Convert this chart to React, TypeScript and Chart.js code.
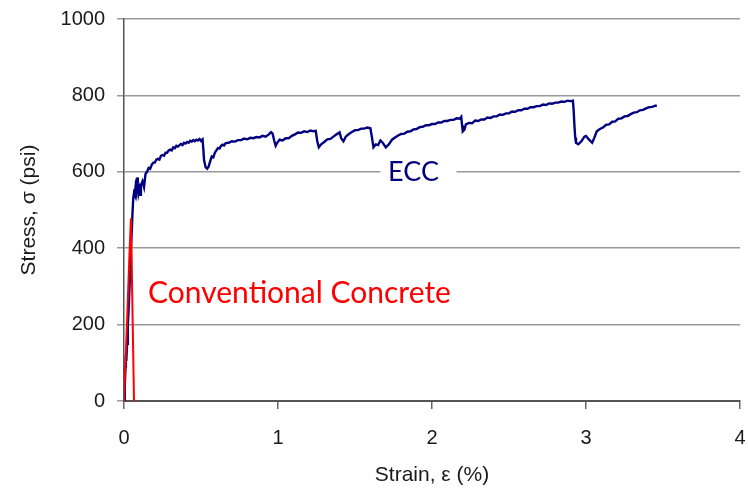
import React, { useEffect, useRef } from "react";
import { Chart, registerables } from "chart.js";

Chart.register(...registerables);

const eccStrain = [0,0.005,0.01,0.012,0.015,0.02,0.025,0.03,0.035,0.04,0.045,0.05,0.055,0.06,0.065,0.07,0.075,0.08,0.085,0.09,0.095,0.1,0.105,0.11,0.12,0.13,0.14,
  0.15,0.16,0.17,0.18,0.19,0.2,0.21,0.22,0.23,0.24,0.25,0.26,0.27,0.28,0.29,0.3,0.31,0.32,0.33,0.34,0.35,0.36,0.37,0.38,0.39,0.4,0.41,0.42,0.43,0.44,0.45,0.46,0.47,0.48,0.49,0.5,0.51,
  0.515,0.52,0.53,0.54,0.55,0.56,0.57,0.58,0.59,0.6,0.61,0.62,0.63,0.64,0.65,0.66,0.68,0.7,0.72,0.74,0.76,0.78,0.8,0.82,0.84,0.86,0.88,0.9,0.92,0.94,0.955,0.965,0.975,0.985,0.995,
  1.01,1.03,1.05,1.07,1.09,1.11,1.13,1.15,1.17,1.19,1.21,1.23,1.245,1.255,1.265,1.28,1.3,1.32,1.34,1.36,1.38,1.4,1.41,1.425,1.44,1.46,1.48,1.5,1.52,1.54,1.56,1.58,1.6,1.61,1.62,1.635,1.65,1.665,1.68,1.7,1.72,1.74,1.76,1.78,1.8,1.82,1.84,1.86,1.88,1.9,1.92,1.94,1.96,1.98,
  2.0,2.02,2.04,2.06,2.08,2.1,2.12,2.14,2.16,2.18,2.19,2.195,2.2,2.21,2.22,2.24,2.26,2.28,2.3,2.32,2.34,2.36,2.38,2.4,2.42,2.44,2.46,2.48,2.5,2.52,2.54,2.56,2.58,2.6,2.62,2.64,2.66,2.68,2.7,2.72,2.74,2.76,2.78,2.8,2.82,2.84,2.86,2.88,2.9,2.915,2.92,2.925,2.93,2.935,2.95,2.97,2.99,
  3.0,3.02,3.04,3.055,3.07,3.09,3.11,3.13,3.15,3.17,3.19,3.21,3.23,3.25,3.27,3.29,3.31,3.33,3.35,3.37,3.39,3.41,3.43,3.45,3.46];
const eccStress = [0,40,90,120,105,150,200,240,290,340,400,440,490,530,545,540,560,548,585,570,545,555,540,565,575,560,595,
  600,610,608,618,624,624,632,634,632,642,644,642,650,650,656,658,656,664,662,668,666,670,673,670,676,674,678,676,681,679,683,680,684,682,686,681,685,
  660,630,612,608,614,628,640,638,650,656,662,661,668,671,669,675,676,680,679,683,683,687,685,689,688,691,690,694,692,698,704,700,682,668,676,
  684,682,688,688,694,698,703,702,706,704,708,706,707,680,664,672,678,685,686,692,698,703,688,680,692,699,704,709,709,713,713,716,714,690,664,672,670,682,676,664,672,684,690,695,699,700,705,706,711,712,717,718,722,722,
  725,725,729,729,733,733,736,736,740,739,744,722,706,710,724,728,727,734,733,737,737,742,741,745,745,750,749,753,753,758,757,761,761,765,765,769,769,772,772,776,775,779,778,781,781,784,783,786,785,786,760,720,690,676,672,680,692,
  694,684,676,690,706,712,716,723,724,731,732,739,740,745,746,751,755,756,761,762,766,769,770,773,773];

const ccStrain = [0, 0.02, 0.035, 0.045, 0.065];
const ccStress = [0, 210, 380, 478, 0];

const xTicks = [0, 1, 2, 3, 4];
const yTicks = [0, 200, 400, 600, 800, 1000];

const eccLabel = { text: "ECC", x: 1.88, y: 600 };
const ccLabel = { text: "Conventional Concrete", x: 0.156, y: 283 };

export default function App() {
  const ref = useRef<HTMLCanvasElement>(null);
  useEffect(() => {
    document.body.style.margin = "0";
    const labelPlugin = {
      id: "labels",
      afterDatasetsDraw(chart: any) {
        const { ctx, scales } = chart;
        const xs = scales.x, ys = scales.y;
        ctx.save();
        ctx.font = "27px Lato";
        const ex = xs.getPixelForValue(eccLabel.x);
        const ey = ys.getPixelForValue(eccLabel.y);
        ctx.fillStyle = "#ffffff";
        ctx.fillRect(ex - 33, ey - 12, 76, 24);
        ctx.fillStyle = "#00007f";
        ctx.textAlign = "center";
        ctx.textBaseline = "middle";
        ctx.fillText(eccLabel.text, ex, ey);
        ctx.font = "30px Lato";
        ctx.fillStyle = "#ff0000";
        ctx.textAlign = "left";
        ctx.fillText(ccLabel.text, xs.getPixelForValue(ccLabel.x), ys.getPixelForValue(ccLabel.y));
        ctx.restore();
      },
    };
    const tickFont = { family: "Liberation Sans", size: 20 };
    const chart = new Chart(ref.current!, {
      type: "scatter",
      data: {
        datasets: [
          {
            label: "Conventional Concrete",
            data: ccStrain.map((x, i) => ({ x, y: ccStress[i] })),
            showLine: true,
            borderColor: "#ff0000",
            borderWidth: 2,
            pointRadius: 0,
            order: 0,
          },
          {
            label: "ECC",
            data: eccStrain.map((x, i) => ({ x, y: eccStress[i] })),
            showLine: true,
            borderColor: "#000080",
            borderWidth: 2.4,
            pointRadius: 0,
            order: 1,
          },
        ],
      },
      options: {
        animation: false,
        responsive: false,
        layout: { padding: { top: 19, right: 8, left: 0, bottom: 0 } },
        plugins: { legend: { display: false }, tooltip: { enabled: false } },
        scales: {
          x: {
            type: "linear",
            min: 0,
            max: 4,
            afterFit: (s: any) => { s.height = 87; s.paddingLeft = 0; s.paddingRight = 0; },
            afterBuildTicks: (s: any) => { s.ticks = xTicks.map((v) => ({ value: v })); },
            ticks: { color: "#1a1a1a", font: tickFont, padding: 17, maxRotation: 0, callback: (v: any) => String(v) },
            grid: { display: true, drawOnChartArea: false, drawTicks: true, tickLength: 8, color: "#666", lineWidth: 1.5 },
            border: { display: true, color: "#555", width: 2 },
            title: { display: true, text: "Strain, ε (%)", color: "#1a1a1a", font: { family: "Liberation Sans", size: 21 }, padding: { top: 0, bottom: 0 } },
          },
          y: {
            type: "linear",
            min: 0,
            max: 1000,
            afterFit: (s: any) => { s.width = 124; s.paddingTop = 0; s.paddingBottom = 0; },
            afterBuildTicks: (s: any) => { s.ticks = yTicks.map((v) => ({ value: v })); },
            ticks: { color: "#1a1a1a", font: tickFont, padding: 12, callback: (v: any) => String(v) },
            grid: { color: "#999", lineWidth: 1.5, tickLength: 7, drawTicks: true },
            border: { display: true, color: "#555", width: 1.5 },
            title: { display: true, text: "Stress, σ (psi)", color: "#1a1a1a", font: { family: "Liberation Sans", size: 21 }, padding: { top: 17, bottom: 0 } },
          },
        },
      },
      plugins: [labelPlugin],
    });
    return () => chart.destroy();
  }, []);
  return (
    <div style={{ width: 748, height: 488, background: "#fff" }}>
      <canvas ref={ref} width={748} height={488} style={{ display: "block" }} />
    </div>
  );
}
